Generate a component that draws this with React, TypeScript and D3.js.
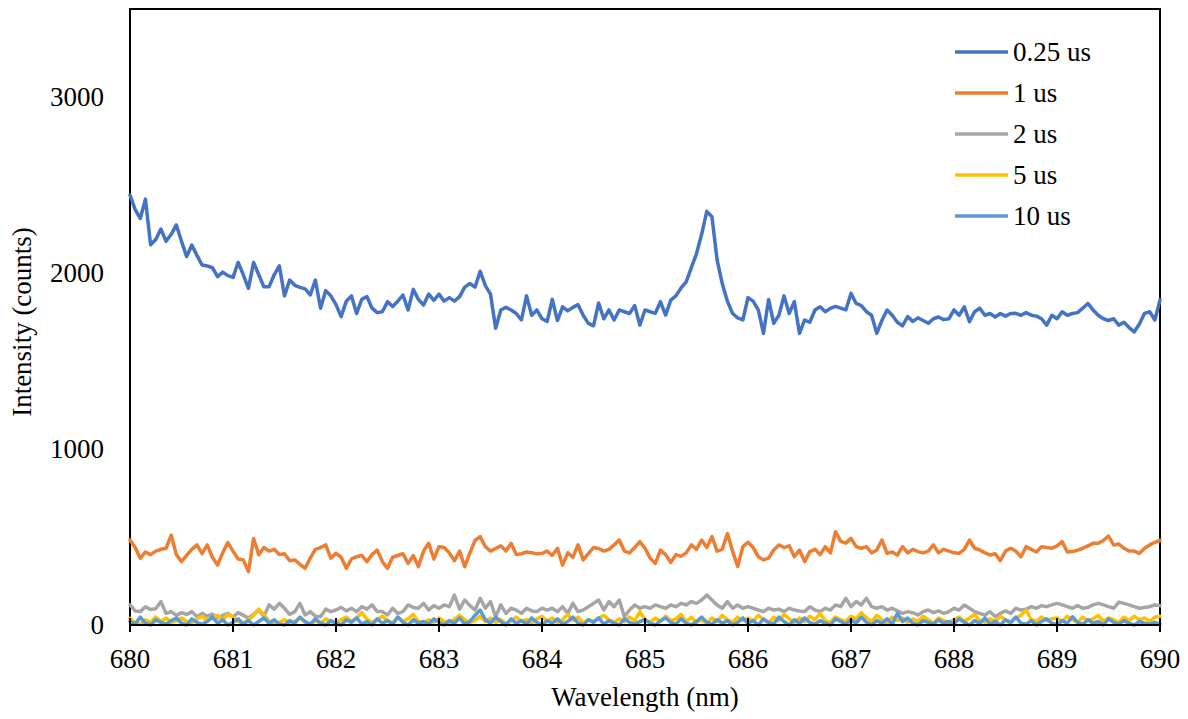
import * as d3 from "d3"

// wavelength grid, nm (0.05 nm step)
const wavelengths = d3.range(0, 201).map((i) => 680 + i * 0.05)

const seriesNames = ["0.25 us", "1 us", "2 us", "5 us", "10 us"]
const seriesColors = ["#4472C4", "#ED7D31", "#A5A5A5", "#FFC000", "#5B9BD5"]

const xTicks = [680, 681, 682, 683, 684, 685, 686, 687, 688, 689, 690]
const yTicks = [0, 1000, 2000, 3000]

const delay025 = [
  2443, 2360, 2310, 2420, 2160, 2190, 2250, 2180, 2220, 2273, 2180, 2093, 2159, 2100, 2045, 2040, 2030, 1979, 2005, 1985,
  1975, 2060, 1990, 1913, 2060, 1990, 1922, 1922, 1990, 2040, 1870, 1960, 1930, 1918, 1910, 1875, 1960, 1800, 1900, 1870,
  1820, 1752, 1840, 1870, 1770, 1850, 1866, 1800, 1775, 1780, 1837, 1810, 1840, 1875, 1790, 1907, 1850, 1818, 1880, 1845,
  1880, 1840, 1860, 1840, 1866, 1920, 1940, 1920, 2010, 1928, 1880, 1686, 1790, 1805, 1790, 1770, 1733, 1870, 1760, 1790,
  1740, 1725, 1850, 1730, 1808, 1785, 1805, 1820, 1760, 1714, 1700, 1830, 1740, 1790, 1733, 1790, 1780, 1770, 1815, 1704,
  1790, 1780, 1771, 1837, 1761, 1846, 1870, 1915, 1950, 2030, 2110, 2220, 2350, 2320, 2074, 1940, 1840, 1770, 1745, 1733,
  1860, 1840, 1790, 1657, 1850, 1714, 1760, 1870, 1770, 1837, 1657, 1733, 1720, 1790, 1808, 1780, 1799, 1810, 1800, 1790,
  1884, 1827, 1815, 1780, 1760, 1657, 1730, 1790, 1760, 1720, 1700, 1752, 1725, 1745, 1730, 1714, 1740, 1750, 1735, 1740,
  1790, 1760, 1808, 1723, 1780, 1800, 1760, 1770, 1750, 1770, 1755, 1770, 1771, 1760, 1775, 1760, 1755, 1740, 1704, 1760,
  1740, 1780, 1760, 1770, 1775, 1800, 1827, 1790, 1760, 1740, 1730, 1740, 1704, 1720, 1690, 1666, 1710, 1771, 1780, 1733,
  1846,
]

const delay1 = [
  483, 440, 379, 415, 400, 420, 430, 436, 511, 400, 360, 395, 430, 455, 405, 455, 385, 341, 410, 468,
  420, 375, 370, 303, 492, 400, 440, 420, 430, 400, 405, 365, 370, 345, 322, 380, 430, 440, 455, 380,
  407, 385, 322, 375, 388, 395, 360, 400, 426, 360, 322, 385, 395, 405, 350, 395, 332, 420, 464, 375,
  445, 440, 410, 365, 420, 331, 410, 480, 502, 445, 420, 435, 450, 420, 464, 400, 405, 415, 410, 405,
  407, 420, 395, 436, 340, 410, 385, 455, 370, 405, 440, 435, 420, 430, 455, 483, 420, 410, 440, 474,
  436, 380, 350, 426, 400, 355, 400, 390, 410, 455, 430, 483, 440, 502, 420, 430, 520, 420, 332, 445,
  470, 440, 388, 370, 380, 426, 455, 440, 450, 388, 426, 360, 417, 430, 400, 445, 410, 530, 475, 465,
  492, 445, 436, 445, 410, 426, 483, 407, 415, 398, 445, 410, 430, 417, 410, 420, 455, 410, 430, 420,
  410, 407, 430, 483, 436, 426, 410, 398, 405, 365, 420, 436, 420, 388, 445, 430, 415, 445, 440, 436,
  450, 474, 415, 417, 425, 436, 450, 464, 464, 480, 505, 455, 460, 436, 420, 420, 407, 436, 455, 470,
  480,
]

const delay2 = [
  114, 80, 76, 104, 88, 92, 133, 66, 76, 55, 70, 60, 76, 47, 66, 50, 62, 40, 55, 66,
  45, 70, 55, 40, 60, 85, 50, 114, 90, 123, 95, 60, 76, 123, 57, 76, 50, 47, 90, 76,
  85, 100, 80, 95, 76, 104, 90, 114, 76, 76, 57, 95, 66, 76, 114, 100, 95, 123, 85, 110,
  95, 114, 104, 170, 90, 142, 110, 85, 152, 95, 133, 47, 114, 66, 95, 85, 66, 95, 80, 76,
  95, 85, 95, 76, 104, 66, 123, 76, 85, 104, 123, 142, 85, 133, 104, 142, 47, 85, 114, 95,
  104, 95, 114, 104, 95, 114, 104, 123, 114, 133, 123, 142, 170, 142, 114, 95, 133, 95, 114, 95,
  104, 95, 85, 76, 95, 85, 90, 76, 95, 85, 80, 76, 104, 85, 76, 95, 85, 114, 104, 152,
  104, 133, 114, 152, 104, 95, 104, 85, 95, 80, 66, 76, 70, 57, 76, 85, 70, 80, 66, 76,
  95, 85, 114, 95, 76, 66, 57, 76, 47, 66, 80, 66, 95, 85, 90, 104, 95, 110, 104, 114,
  123, 114, 104, 95, 110, 95, 100, 114, 123, 114, 104, 95, 130, 123, 114, 104, 95, 100, 104, 114,
  110,
]

const delay5 = [
  38, 10, 5, 30, 15, 45, 20, 40, 15, 25, 40, 20, 10, 35, 50, 25, 40, 55, 30, 60,
  45, 20, 10, 30, 55, 90, 60, 20, 5, 15, 30, 10, 20, 40, 15, 5, 25, 10, 35, 20,
  10, 30, 45, 20, 40, 70, 35, 15, 30, 50, 25, 10, 45, 20, 35, 60, 20, 10, 30, 15,
  40, 20, 10, 35, 55, 30, 15, 25, 50, 20, 40, 15, 30, 10, 25, 45, 20, 30, 10, 35,
  50, 20, 40, 15, 30, 60, 25, 45, 10, 30, 20, 40, 55, 30, 15, 35, 20, 45, 25, 76,
  30, 15, 40, 20, 50, 25, 35, 60, 20, 45, 15, 30, 10, 40, 20, 55, 30, 15, 45, 25,
  40, 20, 55, 30, 10, 45, 25, 60, 35, 15, 40, 20, 50, 30, 65, 25, 15, 45, 30, 20,
  50, 35, 70, 40, 20, 55, 30, 10, 45, 25, 40, 15, 35, 20, 50, 30, 10, 40, 25, 15,
  30, 45, 20, 40, 60, 25, 15, 35, 20, 50, 30, 10, 40, 55, 85, 30, 20, 45, 25, 35,
  40, 20, 50, 30, 15, 45, 25, 35, 55, 20, 40, 30, 15, 45, 25, 50, 30, 40, 20, 45,
  50,
]

const delay10 = [
  20, 5, 45, 10, 0, 30, 15, 5, 25, 40, 10, 0, 35, 15, 5, 20, 45, 10, 30, 0,
  15, 35, 5, 25, 0, 20, 40, 10, 30, 5, 0, 25, 10, 45, 20, 5, 35, 10, 0, 25,
  10, 0, 30, 15, 40, 5, 20, 0, 35, 10, 25, 5, 45, 15, 0, 30, 10, 20, 5, 35,
  15, 0, 25, 10, 40, 5, 20, 55, 85, 30, 10, 45, 20, 0, 35, 10, 25, 5, 40, 15,
  0, 25, 10, 35, 5, 20, 45, 10, 0, 30, 15, 40, 5, 25, 10, 0, 35, 15, 5, 20,
  30, 10, 0, 25, 40, 15, 5, 35, 10, 0, 20, 45, 15, 5, 30, 10, 25, 0, 15, 40,
  10, 25, 0, 35, 15, 5, 45, 20, 0, 30, 10, 40, 15, 5, 25, 10, 0, 35, 20, 5,
  30, 10, 45, 15, 0, 25, 10, 35, 5, 66, 20, 40, 10, 0, 25, 15, 5, 30, 10, 20,
  5, 35, 15, 0, 25, 10, 40, 5, 20, 0, 30, 15, 45, 10, 5, 25, 0, 20, 35, 10,
  0, 25, 10, 47, 15, 5, 30, 10, 20, 0, 35, 15, 5, 25, 10, 0, 20, 10, 5, 15,
  5,
]

const allSeries = [delay025, delay1, delay2, delay5, delay10]

const W = 1188
const H = 719
const margin = { left: 130, right: 28, top: 9, bottom: 94 }
const font = "Liberation Serif, DejaVu Serif, serif"

export default function App() {
  const x = d3.scaleLinear().domain([680, 690]).range([margin.left, W - margin.right])
  const y = d3.scaleLinear().domain([0, 3500]).range([H - margin.bottom, margin.top])

  const line = d3
    .line<number>()
    .x((_, i) => x(wavelengths[i]))
    .y((d) => y(d))

  const x0 = x(680)
  const x1 = x(690)
  const y0 = y(0)
  const yTop = y(3500)

  const textStyle = { fontFamily: font, fontSize: "27px", fill: "#000" }

  return (
    <div style={{ position: "absolute", left: 0, top: 0 }}>
      <svg width={W} height={H} style={{ display: "block", background: "#fff" }}>
        {/* plot frame */}
        <rect x={x0} y={yTop} width={x1 - x0} height={y0 - yTop} fill="none" stroke="#000" strokeWidth={2} />

        {/* series */}
        {allSeries.map((s, i) => (
          <path
            key={seriesNames[i]}
            d={line(s) || ""}
            fill="none"
            stroke={seriesColors[i]}
            strokeWidth={3.5}
            strokeLinejoin="round"
            strokeLinecap="round"
          />
        ))}

        {/* x axis */}
        <line x1={x0} x2={x1} y1={y0} y2={y0} stroke="#000" strokeWidth={2} />
        {xTicks.map((t) => (
          <g key={t}>
            <line x1={x(t)} x2={x(t)} y1={y0 - 7} y2={y0 + 7} stroke="#000" strokeWidth={2} />
            <text x={x(t)} y={y0 + 43} textAnchor="middle" style={textStyle}>
              {t}
            </text>
          </g>
        ))}

        {/* y axis labels */}
        {yTicks.map((t) => (
          <text key={t} x={104} y={y(t)} dy="0.35em" textAnchor="end" style={textStyle}>
            {t}
          </text>
        ))}

        <text x={645} y={706} textAnchor="middle" style={textStyle}>
          Wavelength (nm)
        </text>
        <text transform={`translate(31, 322) rotate(-90)`} textAnchor="middle" style={textStyle}>
          Intensity (counts)
        </text>

        {/* legend */}
        {seriesNames.map((name, i) => (
          <g key={name} transform={`translate(955, ${52 + i * 41})`}>
            <line x1={0} x2={53} y1={0} y2={0} stroke={seriesColors[i]} strokeWidth={3.5} />
            <text x={58} y={0} dy="0.35em" style={textStyle}>
              {name}
            </text>
          </g>
        ))}
      </svg>
    </div>
  )
}
